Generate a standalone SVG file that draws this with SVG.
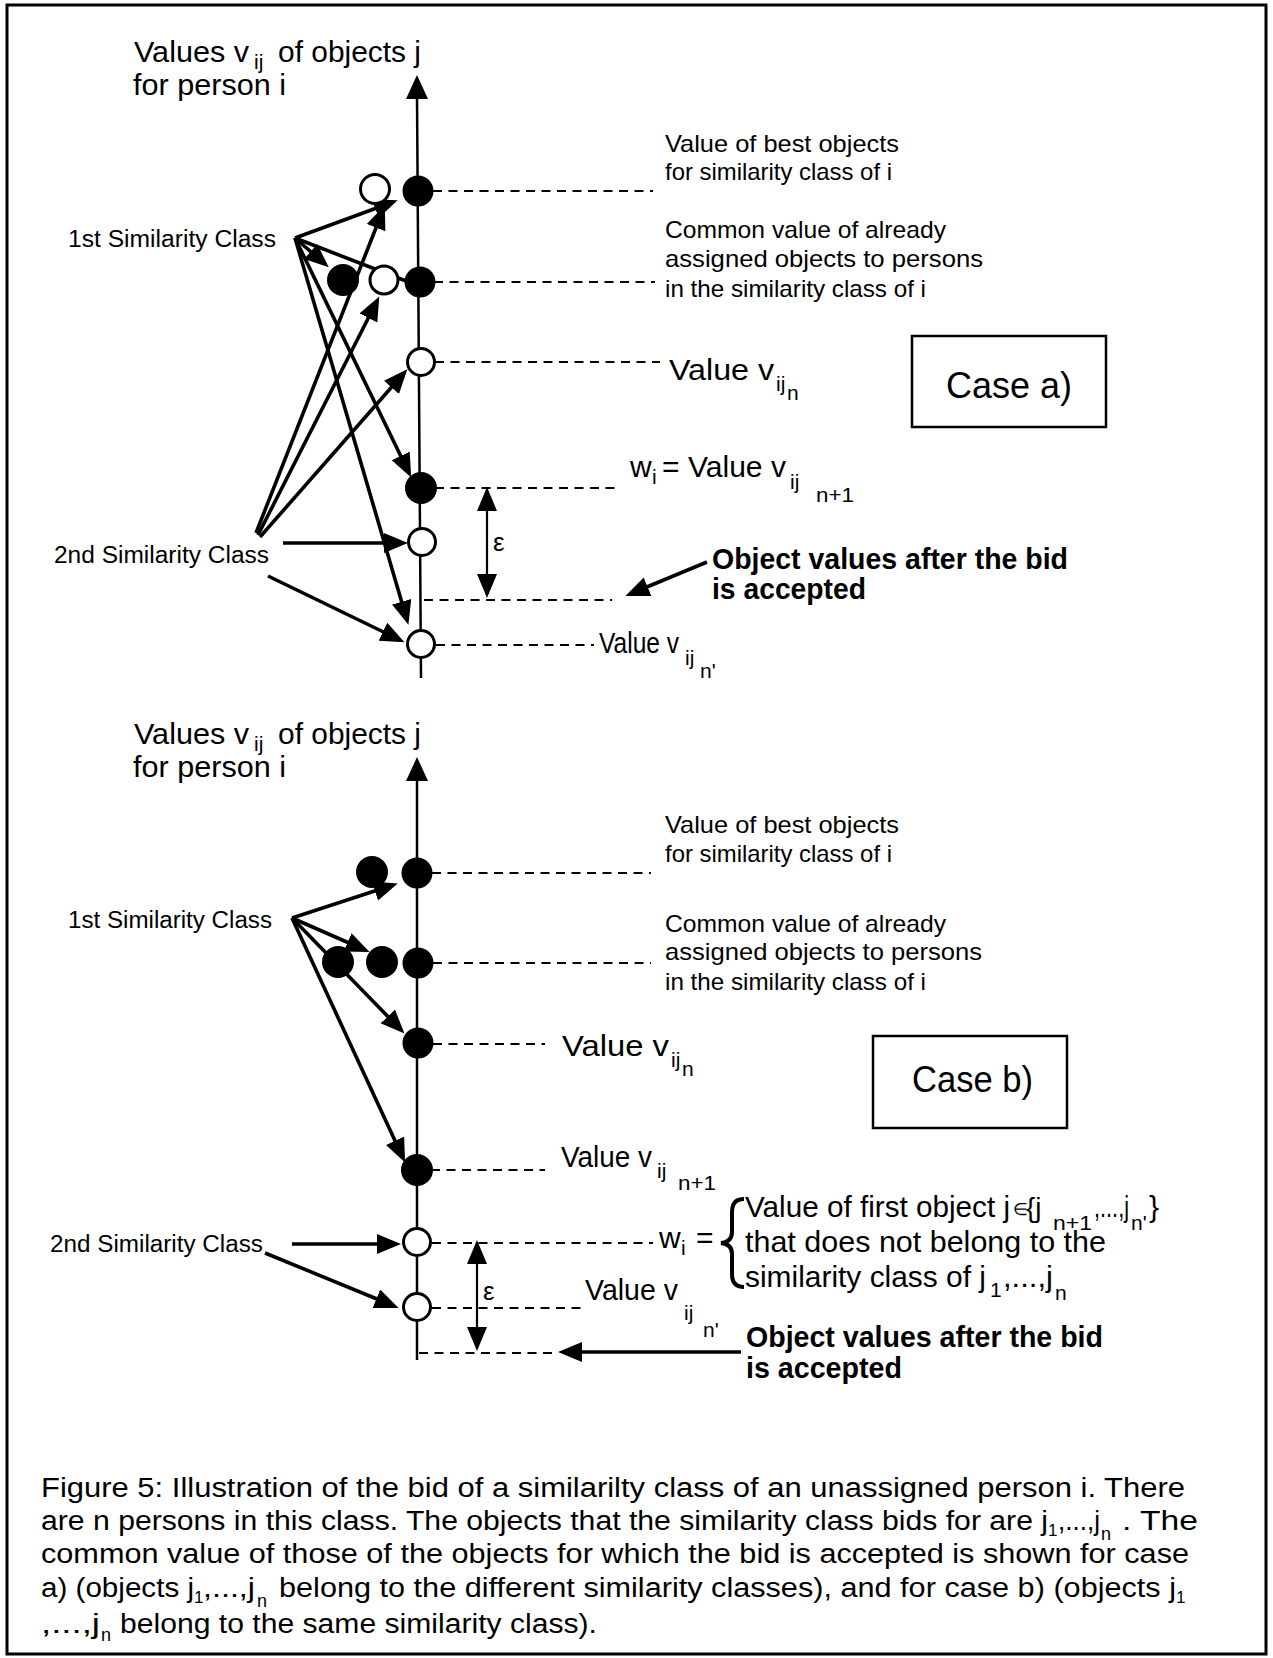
<svg xmlns="http://www.w3.org/2000/svg" width="1273" height="1658" viewBox="0 0 1273 1658">
<style>
text{font-family:"Liberation Sans",Arial,Helvetica,sans-serif;fill:#000}
.big{font-size:30px}
.mid{font-size:24px}
.sm{font-size:23px}
.sub{font-size:21px}
.bold{font-size:30px;font-weight:bold}
.case{font-size:36px}
.cap{font-size:27px}
.fill{fill:#000;stroke:#000;stroke-width:3}
.open{fill:#fff;stroke:#000;stroke-width:3}
.arr{stroke:#000;stroke-width:3.6;fill:none;marker-end:url(#ah)}
.ln{stroke:#000;stroke-width:3.6;fill:none}
.axis{stroke:#000;stroke-width:2.5;fill:none}
.dash{stroke:#000;stroke-width:2;stroke-dasharray:9 6.5;fill:none}
.eps{stroke:#000;stroke-width:2.2;fill:none;marker-end:url(#ah);marker-start:url(#ahs)}
.box{fill:none;stroke:#000;stroke-width:2.5}
</style>
<defs>
<marker id="ah" markerUnits="userSpaceOnUse" markerWidth="26" markerHeight="22" refX="19" refY="10" orient="auto"><path d="M0,0 L24,10 L0,20 z" fill="#000"/></marker>
<marker id="ahs" markerUnits="userSpaceOnUse" markerWidth="26" markerHeight="22" refX="19" refY="10" orient="auto-start-reverse"><path d="M0,0 L24,10 L0,20 z" fill="#000"/></marker>
</defs>
<rect x="0" y="0" width="1273" height="1658" fill="#fff"/>
<rect id="frame" x="7" y="5" width="1259" height="1649" fill="none" stroke="#000" stroke-width="3"/>

<!-- ===== Case a ===== -->
<g id="axis-a">
<path class="axis" d="M421,678 L417,96"/>
<polygon points="417,75 428,99 406,99" fill="#000"/>
<text class="big" x="134" y="62" textLength="115" lengthAdjust="spacingAndGlyphs">Values v</text>
<text class="sub" x="254" y="69">ij</text>
<text class="big" x="278" y="62" textLength="143" lengthAdjust="spacingAndGlyphs">of objects j</text>
<text class="big" x="133" y="95" textLength="153" lengthAdjust="spacingAndGlyphs">for person i</text>
</g>

<g id="connectors-a">
<path class="dash" d="M433,191 H653 M434,282 H655 M435,362 H660 M435,488 H618 M424,600 H612 M436,645 H594"/>
<path class="arr" d="M295,238 L393,202"/>
<path class="arr" d="M256,533 L383,210"/>
<path class="arr" d="M295,238 L325,264"/>
<path class="ln" d="M295,238 L406,281"/>
<path class="arr" d="M258,535 L377,301"/>
<path class="arr" d="M260,537 L404,373"/>
<path class="arr" d="M295,238 L409,473"/>
<path class="arr" d="M295,238 L407,620"/>
<path class="arr" d="M283,543 L403,543"/>
<path class="arr" d="M268,576 L400,640"/>
<path class="arr" d="M707,562 L630,594"/>
<path class="eps" d="M487,492 L487,593"/>
</g>

<g id="class1-a"><text class="sm" x="68" y="247" textLength="208" lengthAdjust="spacingAndGlyphs">1st Similarity Class</text></g>
<g id="class2-a"><text class="sm" x="54" y="563" textLength="215" lengthAdjust="spacingAndGlyphs">2nd Similarity Class</text></g>

<g id="a-best">
<circle class="open" cx="375" cy="189" r="14.5"/>
<circle class="fill" cx="418" cy="191" r="14"/>
<text class="mid" x="665" y="152" textLength="234" lengthAdjust="spacingAndGlyphs">Value of best objects</text>
<text class="mid" x="665" y="180" textLength="227" lengthAdjust="spacingAndGlyphs">for similarity class of i</text>
</g>
<g id="a-common">
<circle class="fill" cx="343" cy="280" r="14.5"/>
<circle class="open" cx="384" cy="280" r="14"/>
<circle class="fill" cx="420" cy="282" r="14"/>
<text class="mid" x="665" y="238" textLength="281" lengthAdjust="spacingAndGlyphs">Common value of already</text>
<text class="mid" x="665" y="267" textLength="318" lengthAdjust="spacingAndGlyphs">assigned objects to persons</text>
<text class="mid" x="665" y="297" textLength="261" lengthAdjust="spacingAndGlyphs">in the similarity class of i</text>
</g>
<g id="a-vn">
<circle class="open" cx="421" cy="362" r="13.5"/>
<text class="big" x="669" y="380" textLength="105" lengthAdjust="spacingAndGlyphs">Value v</text>
<text class="sub" x="776" y="391">ij</text>
<text class="sub" x="787" y="400">n</text>
</g>
<g id="a-case">
<rect class="box" x="912" y="336" width="194" height="91"/>
<text class="case" x="946" y="398" textLength="126" lengthAdjust="spacingAndGlyphs">Case a)</text>
</g>
<g id="a-wi">
<circle class="fill" cx="421" cy="488" r="14.5"/>
<text class="big" x="630" y="477">w</text>
<text class="sub" x="652" y="484">i</text>
<text class="big" x="662" y="477" textLength="124" lengthAdjust="spacingAndGlyphs">= Value v</text>
<text class="sub" x="790" y="489">ij</text>
<text class="sub" x="816" y="502" textLength="38" lengthAdjust="spacingAndGlyphs">n+1</text>
</g>
<g id="a-open5"><circle class="open" cx="422" cy="542" r="13.5"/></g>
<g id="a-eps"><text class="mid" x="493" y="551" style="font-size:26px">ε</text></g>
<g id="a-after">
<text class="bold" x="712" y="569" textLength="356" lengthAdjust="spacingAndGlyphs">Object values after the bid</text>
<text class="bold" x="712" y="599" textLength="154" lengthAdjust="spacingAndGlyphs">is accepted</text>
</g>
<g id="a-vn2">
<circle class="open" cx="421" cy="644" r="13.5"/>
<text class="big" x="599" y="653" textLength="80" lengthAdjust="spacingAndGlyphs">Value v</text>
<text class="sub" x="685" y="665">ij</text>
<text class="sub" x="700" y="678">n'</text>
</g>

<!-- ===== Case b ===== -->
<g id="axis-b">
<path class="axis" d="M417,1360 L417,778"/>
<polygon points="417,757 428,781 406,781" fill="#000"/>
<text class="big" x="134" y="744" textLength="115" lengthAdjust="spacingAndGlyphs">Values v</text>
<text class="sub" x="254" y="751">ij</text>
<text class="big" x="278" y="744" textLength="143" lengthAdjust="spacingAndGlyphs">of objects j</text>
<text class="big" x="133" y="777" textLength="153" lengthAdjust="spacingAndGlyphs">for person i</text>
</g>

<g id="connectors-b">
<path class="dash" d="M432,873 H651 M433,963 H651 M433,1044 H545 M431,1170 H545 M432,1243 H653 M432,1308 H585 M419,1353 H555"/>
<path class="arr" d="M292,918 L393,885"/>
<path class="arr" d="M292,918 L365,950"/>
<path class="arr" d="M292,918 L401,1030"/>
<path class="arr" d="M292,918 L403,1158"/>
<path class="arr" d="M292,1244 L396,1244"/>
<path class="arr" d="M265,1253 L394,1306"/>
<path class="arr" d="M741,1352 L563,1352"/>
<path class="eps" d="M477,1245 L477,1346"/>
</g>

<g id="class1-b"><text class="sm" x="68" y="928" textLength="204" lengthAdjust="spacingAndGlyphs">1st Similarity Class</text></g>
<g id="class2-b"><text class="sm" x="50" y="1252" textLength="213" lengthAdjust="spacingAndGlyphs">2nd Similarity Class</text></g>

<g id="b-best">
<circle class="fill" cx="372" cy="872" r="14.5"/>
<circle class="fill" cx="417" cy="873" r="14"/>
<text class="mid" x="665" y="833" textLength="234" lengthAdjust="spacingAndGlyphs">Value of best objects</text>
<text class="mid" x="665" y="862" textLength="227" lengthAdjust="spacingAndGlyphs">for similarity class of i</text>
</g>
<g id="b-common">
<circle class="fill" cx="338" cy="962" r="14.5"/>
<circle class="fill" cx="382" cy="962" r="14.5"/>
<circle class="fill" cx="418" cy="963" r="14"/>
<text class="mid" x="665" y="932" textLength="281" lengthAdjust="spacingAndGlyphs">Common value of already</text>
<text class="mid" x="665" y="960" textLength="317" lengthAdjust="spacingAndGlyphs">assigned objects to persons</text>
<text class="mid" x="665" y="990" textLength="261" lengthAdjust="spacingAndGlyphs">in the similarity class of i</text>
</g>
<g id="b-vn">
<circle class="fill" cx="418" cy="1043" r="14"/>
<text class="big" x="562" y="1056" textLength="107" lengthAdjust="spacingAndGlyphs">Value v</text>
<text class="sub" x="671" y="1067">ij</text>
<text class="sub" x="682" y="1076">n</text>
</g>
<g id="b-case">
<rect class="box" x="873" y="1036" width="194" height="92"/>
<text class="case" x="912" y="1092" textLength="121" lengthAdjust="spacingAndGlyphs">Case b)</text>
</g>
<g id="b-vn1">
<circle class="fill" cx="417" cy="1170" r="14.5"/>
<text class="big" x="561" y="1167" textLength="91" lengthAdjust="spacingAndGlyphs">Value v</text>
<text class="sub" x="657" y="1178">ij</text>
<text class="sub" x="678" y="1190" textLength="38" lengthAdjust="spacingAndGlyphs">n+1</text>
</g>
<g id="b-wi">
<circle class="open" cx="417" cy="1242" r="13.5"/>
<text class="big" x="659" y="1248">w</text>
<text class="sub" x="681" y="1255">i</text>
<text class="big" x="696" y="1248">=</text>
<path d="M744,1199 Q732,1199 732,1212 L732,1232 Q732,1242 721,1243 Q732,1244 732,1254 L732,1274 Q732,1287 744,1287" fill="none" stroke="#000" stroke-width="4"/>
<text class="big" x="745" y="1217" textLength="265" lengthAdjust="spacingAndGlyphs">Value of first object j</text>
<text class="sub" x="1013" y="1215" style="font-size:17px">∈</text>
<text class="big" x="1026" y="1217" style="font-size:28px">{j</text>
<text class="sub" x="1053" y="1230" textLength="39" lengthAdjust="spacingAndGlyphs">n+1</text>
<text class="big" x="1094" y="1217" textLength="35" lengthAdjust="spacingAndGlyphs">,...,j</text>
<text class="sub" x="1131" y="1230">n'</text>
<text class="big" x="1149" y="1217">}</text>
<text class="big" x="745" y="1252" textLength="361" lengthAdjust="spacingAndGlyphs">that does not belong to the</text>
<text class="big" x="745" y="1287" textLength="241" lengthAdjust="spacingAndGlyphs">similarity class of j</text>
<text class="sub" x="990" y="1297">1</text>
<text class="big" x="1003" y="1287" textLength="50" lengthAdjust="spacingAndGlyphs">,...,j</text>
<text class="sub" x="1055" y="1300">n</text>
</g>
<g id="b-eps"><text class="mid" x="483" y="1300" style="font-size:26px">ε</text></g>
<g id="b-vn2">
<circle class="open" cx="417" cy="1307" r="13.5"/>
<text class="big" x="585" y="1300" textLength="93" lengthAdjust="spacingAndGlyphs">Value v</text>
<text class="sub" x="684" y="1320">ij</text>
<text class="sub" x="703" y="1337">n'</text>
</g>
<g id="b-after">
<text class="bold" x="746" y="1347" textLength="357" lengthAdjust="spacingAndGlyphs">Object values after the bid</text>
<text class="bold" x="746" y="1378" textLength="156" lengthAdjust="spacingAndGlyphs">is accepted</text>
</g>

<!-- ===== Caption ===== -->
<g id="caption">
<text class="cap" x="41" y="1497" textLength="1144" lengthAdjust="spacingAndGlyphs">Figure 5:  Illustration of the bid of a similarilty class of an unassigned person i. There</text>
<text class="cap" x="41" y="1530" textLength="1007" lengthAdjust="spacingAndGlyphs">are n persons in this class. The objects that the similarity class bids for are j</text>
<text class="sub" x="1048" y="1536" style="font-size:17px">1</text>
<text class="cap" x="1058" y="1530" textLength="42" lengthAdjust="spacingAndGlyphs">,...,j</text>
<text class="sub" x="1101" y="1540" style="font-size:18px">n</text>
<text class="cap" x="1122" y="1530" textLength="76" lengthAdjust="spacingAndGlyphs">. The</text>
<text class="cap" x="41" y="1563" textLength="1148" lengthAdjust="spacingAndGlyphs">common value of those of the objects for which the bid is accepted is shown for case</text>
<text class="cap" x="41" y="1597" textLength="153" lengthAdjust="spacingAndGlyphs">a) (objects j</text>
<text class="sub" x="194" y="1603" style="font-size:17px">1</text>
<text class="cap" x="203" y="1597" textLength="52" lengthAdjust="spacingAndGlyphs">,...,j</text>
<text class="sub" x="257" y="1607" style="font-size:18px">n</text>
<text class="cap" x="279" y="1597" textLength="897" lengthAdjust="spacingAndGlyphs">belong to the different similarity classes), and for case b) (objects j</text>
<text class="sub" x="1176" y="1603" style="font-size:17px">1</text>
<text class="cap" x="41" y="1633" textLength="59" lengthAdjust="spacingAndGlyphs">,...,j</text>
<text class="sub" x="101" y="1641" style="font-size:18px">n</text>
<text class="cap" x="120" y="1633" textLength="477" lengthAdjust="spacingAndGlyphs">belong to the same similarity class).</text>
</g>
</svg>
